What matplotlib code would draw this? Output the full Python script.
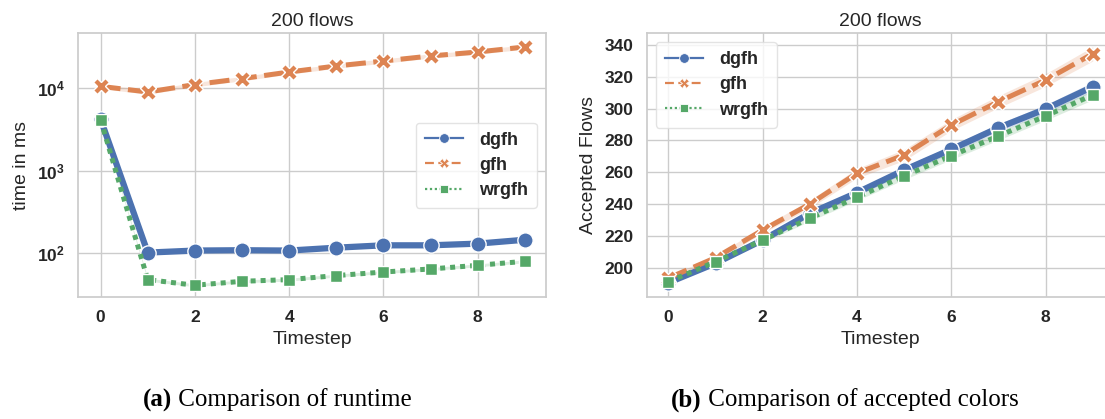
import matplotlib
matplotlib.use("Agg")
import matplotlib.pyplot as plt
from matplotlib.lines import Line2D
import numpy as np

# ---------------- data ----------------
timesteps = [0, 1, 2, 3, 4, 5, 6, 7, 8, 9]
series_names = ["dgfh", "gfh", "wrgfh"]

runtime_dgfh = [4210, 102, 108, 109, 108, 117, 125, 125, 131, 146]
runtime_gfh = [10560, 9020, 11100, 13100, 15760, 18640, 21420, 24640, 27550, 31700]
runtime_wrgfh = [4150, 48, 41, 45.8, 48, 53.7, 59.3, 64.6, 71.5, 80]
runtime_ci_rel = [0.04, 0.06, 0.04]  # relative half-width of confidence bands

flows_dgfh = [190.6, 202.8, 217.4, 234.2, 247.2, 261.4, 274.4, 288.0, 299.8, 313.8]
flows_gfh = [193.5, 206.3, 223.7, 240.0, 259.4, 270.9, 289.7, 304.4, 318.0, 334.5]
flows_wrgfh = [191.2, 203.8, 217.4, 231.1, 244.3, 257.7, 270.4, 282.8, 295.4, 308.6]
flows_ci = [
    [1.0, 1.2, 1.5, 1.8, 2.0, 2.2, 2.4, 2.5, 2.7, 3.0],
    [1.0, 1.5, 2.0, 2.5, 3.0, 3.5, 3.5, 3.8, 4.0, 4.5],
    [1.0, 1.2, 1.5, 1.8, 2.0, 2.2, 2.4, 2.5, 2.7, 3.0],
]

titles = ["200 flows", "200 flows"]
ylabels = ["time in ms", "Accepted Flows"]
xlabel = "Timestep"
captions = [("(a)", " Comparison of runtime"), ("(b)", " Comparison of accepted colors")]

# ---------------- style ----------------
colors = ["#4c72b0", "#dd8452", "#55a868"]
linestyles = ["-", (0, (4, 1.5)), (0, (1, 1))]
markers = ["o", "X", "s"]
lws = [4.5, 3.6, 3.6]
msizes = [11, 12, 8.5]

plt.rcParams["font.family"] = ["Liberation Sans", "DejaVu Sans"]
plt.rcParams["axes.edgecolor"] = "#cccccc"
plt.rcParams["text.color"] = "#262626"
plt.rcParams["axes.labelcolor"] = "#262626"
plt.rcParams["xtick.color"] = "#262626"
plt.rcParams["ytick.color"] = "#262626"

W, H = 1105, 419
fig = plt.figure(figsize=(W / 100, H / 100), dpi=100)
fig.patch.set_facecolor("white")

ax1 = fig.add_axes([78 / W, (H - 297.3) / H, (546 - 78) / W, (297.3 - 33.3) / H])
ax2 = fig.add_axes([646.7 / W, (H - 297.3) / H, (1114 - 646.7) / W, (297.3 - 33.3) / H])


def style_axes(ax):
    ax.set_facecolor("white")
    ax.grid(True, color="#cccccc", linewidth=1.0)
    ax.set_axisbelow(True)
    for s in ax.spines.values():
        s.set_color("#cccccc")
        s.set_linewidth(1.25)
    ax.tick_params(axis="both", which="both", length=0, labelsize=12.5, pad=9.5)
    for lab in ax.get_xticklabels() + ax.get_yticklabels():
        lab.set_fontweight("bold")


def draw(ax, ys, lows, highs):
    for i, name in enumerate(series_names):
        ax.fill_between(timesteps, lows[i], highs[i], color=colors[i], alpha=0.2, linewidth=0)
        ax.plot(timesteps, ys[i], color=colors[i], linestyle=linestyles[i], linewidth=lws[i],
                marker=markers[i], markersize=msizes[i], markeredgecolor="white",
                markeredgewidth=1.0, label=name)


def legend(ax, loc):
    handles = [Line2D([0], [0], color=colors[i], linestyle=["-", (0, (4, 2)), (0, (1, 1.2))][i],
                      linewidth=1.6, marker=markers[i], markersize=[7, 7, 6][i],
                      markeredgecolor="white", markeredgewidth=0.6)
               for i in range(3)]
    leg = ax.legend(handles, series_names, loc=loc, prop={"weight": "bold", "size": 13},
                    frameon=True, fancybox=True, handlelength=2.1, borderpad=0.5,
                    labelspacing=0.45, handletextpad=0.9, borderaxespad=0.5)
    leg.get_frame().set_edgecolor("#dddddd")
    leg.get_frame().set_alpha(0.8)


# left: runtime (log)
rt = [runtime_dgfh, runtime_gfh, runtime_wrgfh]
rt_lo = [np.array(r) * (1 - c) for r, c in zip(rt, runtime_ci_rel)]
rt_hi = [np.array(r) * (1 + c) for r, c in zip(rt, runtime_ci_rel)]
draw(ax1, rt, rt_lo, rt_hi)
ax1.set_yscale("log")
ax1.set_ylim(29.3, 46400)
ax1.set_xlim(-0.48, 9.45)
ax1.set_xticks([0, 2, 4, 6, 8])
ax1.yaxis.set_minor_locator(matplotlib.ticker.NullLocator())
style_axes(ax1)
legend(ax1, "center right")

# right: accepted flows
fl = [flows_dgfh, flows_gfh, flows_wrgfh]
fl_lo = [np.array(f) - np.array(c) for f, c in zip(fl, flows_ci)]
fl_hi = [np.array(f) + np.array(c) for f, c in zip(fl, flows_ci)]
draw(ax2, fl, fl_lo, fl_hi)
ax2.set_ylim(181.4, 347.4)
ax2.set_xlim(-0.46, 9.45)
ax2.set_xticks([0, 2, 4, 6, 8])
ax2.set_yticks([200, 220, 240, 260, 280, 300, 320, 340])
style_axes(ax2)
legend(ax2, "upper left")

for ax, t, yl in zip([ax1, ax2], titles, ylabels):
    ax.set_title(t, fontsize=14, pad=5)
    ax.set_xlabel(xlabel, fontsize=14, labelpad=4)
    ax.set_ylabel(yl, fontsize=14, labelpad=5)

# captions
for (bold, rest), cx in zip(captions, [277, 844]):
    t = fig.text(cx / W, (H - 400) / H, bold + rest, ha="center", va="center",
                 fontsize=18, family="Liberation Serif", color="black", alpha=0)
    fig.canvas.draw()
    bb = t.get_window_extent()
    x0 = bb.x0
    tb = fig.text(x0 / W, (H - 400) / H, bold, ha="left", va="center", fontsize=18,
                  family="Liberation Serif", fontweight="bold", color="black")
    fig.canvas.draw()
    bb2 = tb.get_window_extent()
    fig.text(bb2.x1 / W, (H - 400) / H, rest, ha="left", va="center", fontsize=18,
             family="Liberation Serif", color="black")
    t.remove()

fig.savefig("out.png", dpi=100, facecolor="white")
